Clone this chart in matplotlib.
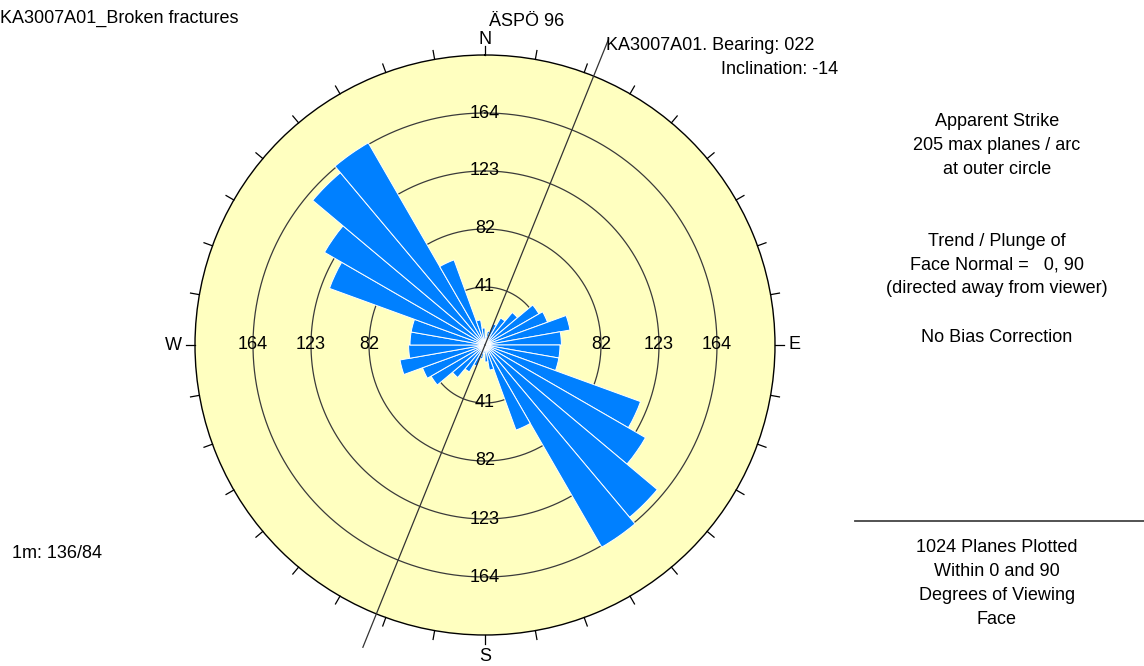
import numpy as np
import matplotlib
matplotlib.use('Agg')
import matplotlib.pyplot as plt

plt.rcParams['font.family'] = ['Liberation Sans', 'DejaVu Sans']

# apparent strike, 10 degree bins from 0 to 180 (mirrored to 180-360)
bin_start = [0, 10, 20, 30, 40, 50, 60, 70, 80, 90, 100, 110, 120, 130, 140, 150, 160, 170]
plane_count = [6, 10, 16, 22, 30, 44, 47, 61, 54, 53, 53, 117, 131, 159, 165, 64, 18, 12]
ring_values = [41, 82, 123, 164]
max_planes = 205
bearing = 22

YELLOW = '#FFFFC0'
BLUE = '#0080FF'
FS = 13

fig = plt.figure(figsize=(11.44, 6.66), dpi=100)
fig.patch.set_facecolor('white')

W, H = 1144, 666
cx, cy, R = 485, 345, 290
ax = fig.add_axes([(cx - R) / W, (H - cy - R) / H, 2 * R / W, 2 * R / H],
                  projection='polar')
ax.set_theta_zero_location('N')
ax.set_theta_direction(-1)
ax.set_ylim(0, max_planes)
ax.set_facecolor(YELLOW)
ax.spines['polar'].set_color('black')
ax.spines['polar'].set_linewidth(1.0)
ax.set_xticks([])
ax.set_yticks([])
ax.grid(False)

# rings
circ = np.linspace(0, 2 * np.pi, 400)
for v in ring_values:
    ax.plot(circ, np.full_like(circ, v), color='#3a3a3a', lw=0.9, zorder=1)

# bars, both directions
starts = np.array(bin_start + [b + 180 for b in bin_start])
counts = np.array(plane_count + plane_count)
theta = np.deg2rad(starts + 5)
ax.bar(theta, counts, width=np.deg2rad(10), bottom=0, color=BLUE,
       edgecolor='white', linewidth=0.7, zorder=2)

# ring labels
for v in ring_values:
    ax.text(0, v, str(v), ha='center', va='center', fontsize=FS, zorder=3)
    ax.text(np.pi, v, str(v), ha='center', va='center', fontsize=FS, zorder=3)
for v in ring_values[1:]:
    ax.text(np.pi / 2, v, str(v), ha='center', va='center', fontsize=FS, zorder=3)
    ax.text(3 * np.pi / 2, v, str(v), ha='center', va='center', fontsize=FS, zorder=3)

# outer ticks every 10 degrees
tick_out = max_planes * (R + 9) / R
for a in range(0, 360, 10):
    t = np.deg2rad(a)
    ax.plot([t, t], [max_planes, tick_out], color='black', lw=0.9,
            clip_on=False, zorder=4)

# compass letters
for a, lab, r in [(0, 'N', 216), (90, 'E', 219), (180, 'S', 220), (270, 'W', 220)]:
    ax.text(np.deg2rad(a), r, lab, ha='center', va='center', fontsize=FS,
            clip_on=False)

# borehole trace, straight through the centre
line_far = max_planes * 330 / R
line_near = max_planes * 326 / R
ax.plot([np.deg2rad(bearing)] * 2, [0, line_far], color='#333333', lw=0.9,
        clip_on=False, zorder=5)
ax.plot([np.deg2rad(bearing + 180)] * 2, [0, line_near], color='#333333', lw=0.9,
        clip_on=False, zorder=5)


def ftext(x, y, s, **kw):
    fig.text(x / W, 1 - y / H, s, va='center', fontsize=FS, **kw)


ftext(0, 18, 'KA3007A01_Broken fractures', ha='left')
ftext(489, 22, 'ÄSPÖ 96', ha='left')
ftext(606, 45, 'KA3007A01. Bearing: 022', ha='left')
ftext(838, 70, 'Inclination: -14', ha='right')
ftext(12, 553, '1m: 136/84', ha='left')

right_x = 997
for y, s in [(122, 'Apparent Strike'), (146, '205 max planes / arc'),
             (169, 'at outer circle'), (241, 'Trend / Plunge of'),
             (265, 'Face Normal =   0, 90'), (289, '(directed away from viewer)'),
             (337, 'No Bias Correction'), (547, '1024 Planes Plotted'),
             (571, 'Within 0 and 90'), (595, 'Degrees of Viewing'), (619, 'Face')]:
    ftext(right_x, y, s, ha='center')

fig.add_artist(plt.Line2D([855 / W, 1.0], [1 - 521 / H] * 2, color='#444444', lw=1.3))

fig.savefig('out.png', dpi=100, facecolor='white')
